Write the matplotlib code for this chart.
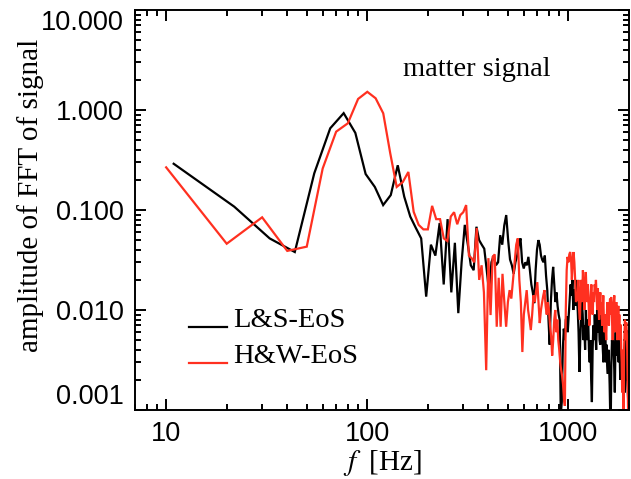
import numpy as np
import matplotlib
matplotlib.use("Agg")
import matplotlib.pyplot as plt
from matplotlib.ticker import FixedLocator, NullFormatter

plt.rcParams['mathtext.fontset'] = 'stix'

# ---------------- data ----------------
ls_step = 10.9   # Hz, frequency spacing of L&S-EoS FFT
hw_step = 10.0   # Hz, frequency spacing of H&W-EoS FFT

ls_amp = [
    0.29, 0.108, 0.052, 0.038, 0.233, 0.656, 0.93, 0.59, 0.229, 0.17,
    0.112, 0.141, 0.28, 0.136, 0.086, 0.066, 0.052, 0.0136, 0.045, 0.035,
    0.074, 0.018, 0.081, 0.015, 0.047, 0.0093, 0.03, 0.071, 0.045, 0.028,
    0.025, 0.068, 0.05, 0.045, 0.041, 0.025, 0.015, 0.03, 0.035, 0.028,
    0.03, 0.056, 0.045, 0.07, 0.089, 0.05, 0.032, 0.028, 0.023, 0.03,
    0.035, 0.045, 0.052, 0.03, 0.026, 0.03, 0.028, 0.034, 0.025, 0.018,
    0.015, 0.0117, 0.025, 0.04, 0.05, 0.045, 0.035, 0.0316, 0.03, 0.035,
    0.022, 0.0158, 0.008, 0.0045, 0.012, 0.02, 0.027, 0.018, 0.012, 0.015,
    0.011, 0.009, 0.0079, 0.0009,
    0.0012, 0.004, 0.0065, 0.005, 0.008, 0.0086, 0.006, 0.0086, 0.012, 0.018,
    0.014, 0.02, 0.01, 0.016, 0.011, 0.02, 0.014, 0.01, 0.006, 0.0024,
    0.005, 0.008, 0.012, 0.009, 0.005, 0.007, 0.004, 0.01, 0.006, 0.005,
    0.008, 0.004, 0.003, 0.005, 0.002, 0.0012, 0.004, 0.007, 0.005, 0.009,
    0.006, 0.004, 0.008, 0.011, 0.006, 0.009, 0.005, 0.0045, 0.007, 0.01,
    0.006, 0.004, 0.003, 0.005, 0.008, 0.006, 0.003, 0.0045, 0.0028, 0.0023,
    0.004, 0.003, 0.0018, 0.0009, 0.0009, 0.003, 0.005, 0.004, 0.006, 0.004,
    0.0025, 0.0015, 0.004, 0.006, 0.0035, 0.005, 0.007, 0.004, 0.003, 0.005,
    0.0035, 0.002, 0.0045, 0.003, 0.0027, 0.0018, 0.0035, 0.0025, 0.002, 0.0027,
    0.0015, 0.003, 0.0045, 0.0063, 0.004, 0.002, 0.0015, 0.0012, 0.0009,
]

hw_amp = [
    0.267, 0.046, 0.0845, 0.039, 0.043, 0.26, 0.607, 0.736, 1.29, 1.52,
    1.31, 0.927, 0.37, 0.17, 0.19, 0.24, 0.096, 0.071, 0.064, 0.064,
    0.11, 0.081, 0.081, 0.052, 0.049, 0.086, 0.095, 0.072, 0.089, 0.095,
    0.112, 0.035, 0.033, 0.03, 0.066, 0.02, 0.028, 0.015, 0.0025, 0.033,
    0.0089, 0.034, 0.036, 0.0068, 0.021, 0.0068, 0.023, 0.012, 0.0068, 0.012,
    0.0158, 0.013, 0.02, 0.03, 0.045, 0.052, 0.02, 0.012, 0.0038, 0.009,
    0.012, 0.0158, 0.01, 0.008, 0.0063, 0.009, 0.014, 0.012, 0.015, 0.019,
    0.012, 0.0074, 0.01, 0.012, 0.014, 0.0158, 0.011, 0.009, 0.012, 0.01,
    0.007, 0.0055, 0.0035, 0.005, 0.008, 0.01, 0.006, 0.008, 0.005, 0.004,
    0.003, 0.0025, 0.0022, 0.0018, 0.0013, 0.0011, 0.01, 0.025, 0.034, 0.03,
    0.036, 0.038, 0.033, 0.02, 0.03, 0.038, 0.03, 0.02, 0.012, 0.013,
    0.0126, 0.02, 0.01, 0.008, 0.015, 0.02, 0.012, 0.025, 0.018, 0.01,
    0.016, 0.024, 0.015, 0.012, 0.018, 0.011, 0.007, 0.009, 0.014, 0.018,
    0.012, 0.009, 0.015, 0.012, 0.018, 0.016, 0.02, 0.014, 0.01, 0.0165,
    0.012, 0.008, 0.011, 0.015, 0.009, 0.012, 0.007, 0.01, 0.014, 0.008,
    0.006, 0.009, 0.0068, 0.005, 0.008, 0.012, 0.009, 0.01, 0.007, 0.0105,
    0.013, 0.009, 0.0135, 0.011, 0.007, 0.005, 0.008, 0.012, 0.014, 0.009,
    0.006, 0.01, 0.012, 0.007, 0.005, 0.008, 0.011, 0.006, 0.009, 0.005,
    0.007, 0.007, 0.004, 0.003, 0.0015, 0.004, 0.003, 0.0009, 0.004, 0.006,
    0.008, 0.005, 0.007, 0.0075, 0.006, 0.004, 0.002, 0.0009, 0.003, 0.005,
]

ls_freq = ls_step * np.arange(1, len(ls_amp) + 1)
hw_freq = hw_step * np.arange(1, len(hw_amp) + 1)

series_labels = ["L&S-EoS", "H&W-EoS"]
annotation = "matter signal"
xlabel = r"$f\;$ [Hz]"
ylabel = "amplitude of FFT of signal"
x_major = [10, 100, 1000]
x_major_labels = ["10", "100", "1000"]
y_major = [0.001, 0.01, 0.1, 1.0, 10.0]
y_major_labels = ["0.001", "0.010", "0.100", "1.000", "10.000"]

# ---------------- figure ----------------
W, H = 631, 479
fig = plt.figure(figsize=(W / 100, H / 100), dpi=100)
ax = fig.add_axes([135 / W, (H - 410) / H, 494 / W, 400 / H])

red = '#ff3020'
ax.plot(ls_freq, ls_amp, color='black', lw=1.6, solid_joinstyle='miter')
ax.plot(hw_freq, hw_amp, color=red, lw=1.6, solid_joinstyle='miter')

ax.set_xscale('log')
ax.set_yscale('log')
ax.set_xlim(7, 2000)
ax.set_ylim(0.001, 10)

serif = ['Liberation Serif', 'DejaVu Serif']
sans = ['Liberation Sans', 'DejaVu Sans']

ax.xaxis.set_major_locator(FixedLocator(x_major))
ax.set_xticklabels(x_major_labels, fontfamily=sans, fontsize=19.5)
ax.yaxis.set_major_locator(FixedLocator(y_major))
ax.set_yticklabels(y_major_labels, fontfamily=sans, fontsize=19.5)
ylabs = ax.get_yticklabels()
ylabs[0].set_va('bottom')
ylabs[-1].set_va('top')

xminor = [m * d for d in (1, 10, 100, 1000) for m in range(2, 10)]
yminor = [m * d for d in (0.001, 0.01, 0.1, 1.0) for m in range(2, 10)]
ax.xaxis.set_minor_locator(FixedLocator(xminor))
ax.yaxis.set_minor_locator(FixedLocator(yminor))
ax.xaxis.set_minor_formatter(NullFormatter())
ax.yaxis.set_minor_formatter(NullFormatter())

ax.tick_params(which='both', direction='in', top=True, right=True, width=1.4, colors='black')
ax.tick_params(which='major', length=8, pad=8)
ax.tick_params(which='minor', length=4)
for s in ax.spines.values():
    s.set_linewidth(1.4)

ax.set_xlabel(xlabel, fontfamily=serif, fontsize=21, labelpad=1)
ax.set_ylabel(ylabel, fontfamily=serif, fontsize=21)
ax.yaxis.set_label_coords((44 - 135) / 494, 1 - (195 - 10) / 400)

ax.text((403 - 135) / 494, 1 - (70 - 10) / 400, annotation, transform=ax.transAxes,
        fontfamily=serif, fontsize=20.5, ha='left', va='center')

# legend drawn by hand
colors = ['black', red]
ypix = [327, 363]
for lab, c, yp in zip(series_labels, colors, ypix):
    yf = 1 - (yp - 10) / 400
    ax.plot([(189 - 135) / 494, (227 - 135) / 494], [yf, yf], transform=ax.transAxes,
            color=c, lw=1.6, clip_on=False)
    ax.text((233 - 135) / 494, yf, lab, transform=ax.transAxes, fontfamily=serif,
            fontsize=20.5, ha='left', va='baseline')

fig.savefig('out.png', dpi=100)
